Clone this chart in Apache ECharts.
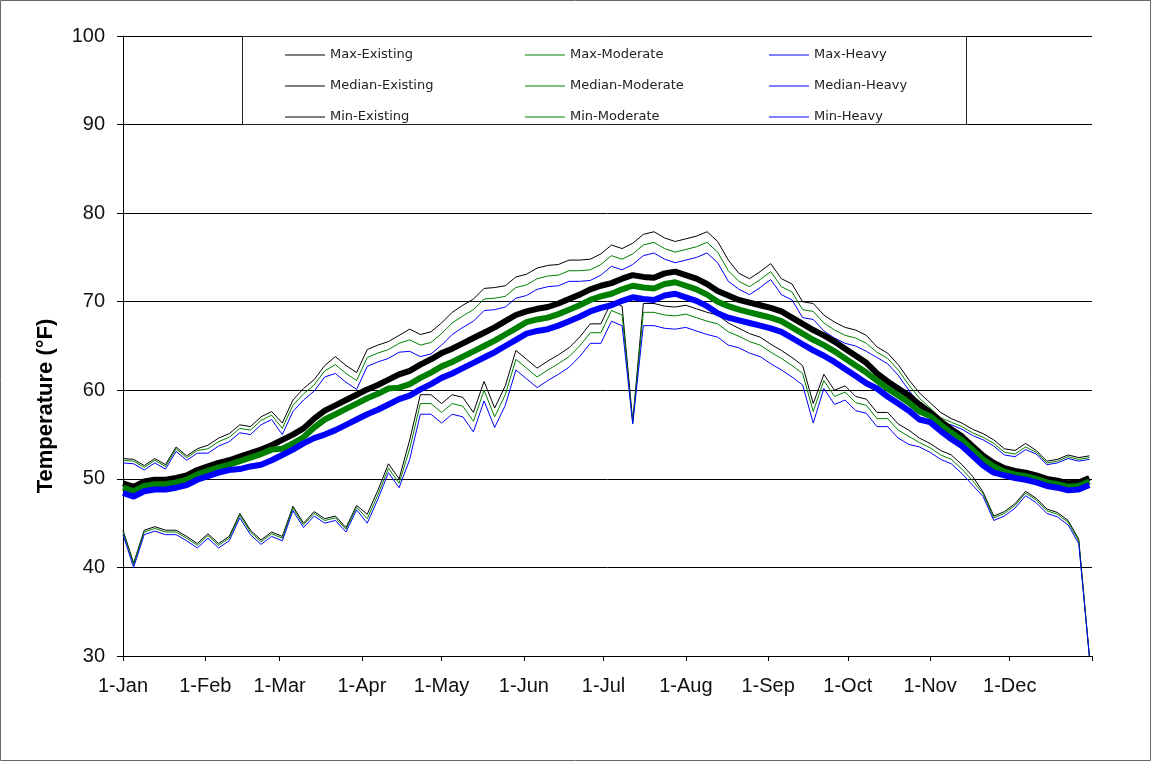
<!DOCTYPE html>
<html>
<head>
<meta charset="utf-8">
<title>Temperature</title>
<script src="https://cdn.jsdelivr.net/npm/echarts@6/dist/echarts.min.js"></script>
<style>
    html, body { margin: 0; padding: 0; background: #fff; }
    #chart { width: 1151px; height: 761px; }
</style>
</head>
<body>
<div id="chart"></div>
<script>
// day of year (0 = 1-Jan), sampled every 4 days
var days = [
    0, 4, 8, 12, 16, 20, 24, 28, 32, 36,
    40, 44, 48, 52, 56, 60, 64, 68, 72, 76,
    80, 84, 88, 92, 96, 100, 104, 108, 112, 116,
    120, 124, 128, 132, 136, 140, 144, 148, 152, 156,
    160, 164, 168, 172, 176, 180, 184, 188, 192, 196,
    200, 204, 208, 212, 216, 220, 224, 228, 232, 236,
    240, 244, 248, 252, 256, 260, 264, 268, 272, 276,
    280, 284, 288, 292, 296, 300, 304, 308, 312, 316,
    320, 324, 328, 332, 336, 340, 344, 348, 352, 356,
    360, 364
];

var monthDays = [0, 31, 59, 90, 120, 151, 181, 212, 243, 273, 304, 334, 365];
var monthLabels = ['1-Jan', '1-Feb', '1-Mar', '1-Apr', '1-May', '1-Jun',
    '1-Jul', '1-Aug', '1-Sep', '1-Oct', '1-Nov', '1-Dec'];

var maxExisting = [
    52.3, 52.2, 51.5, 52.3, 51.6, 53.6, 52.6, 53.4, 53.8, 54.6,
    55.1, 56.1, 55.9, 57.0, 57.6, 56.3, 58.9, 60.2, 61.2, 62.8,
    63.8, 62.8, 62.0, 64.6, 65.1, 65.5, 66.2, 66.9, 66.3, 66.6,
    67.6, 68.8, 69.6, 70.3, 71.5, 71.6, 71.8, 72.8, 73.1, 73.8,
    74.1, 74.2, 74.7, 74.7, 74.8, 75.4, 76.4, 76.0, 76.6, 77.6,
    77.9, 77.2, 76.8, 77.1, 77.4, 77.9, 76.8, 74.7, 73.2, 72.6,
    73.4, 74.3, 72.6, 72.0, 70.0, 69.8, 68.5, 67.7, 67.1, 66.8,
    66.2, 64.9, 64.2, 62.9, 61.2, 59.7, 58.6, 57.5, 56.8, 56.3,
    55.6, 55.1, 54.4, 53.4, 53.2, 54.0, 53.2, 52.0, 52.2, 52.7,
    52.4, 52.6
];
var maxModerate = [
    52.1, 52.0, 51.3, 52.1, 51.4, 53.4, 52.4, 53.2, 53.4, 54.2,
    54.7, 55.7, 55.5, 56.6, 57.2, 55.7, 58.3, 59.6, 60.6, 62.2,
    62.9, 61.9, 61.1, 63.7, 64.2, 64.6, 65.3, 65.7, 65.1, 65.4,
    66.4, 67.6, 68.4, 69.1, 70.3, 70.4, 70.6, 71.6, 71.9, 72.6,
    72.9, 73.0, 73.5, 73.5, 73.6, 74.2, 75.2, 74.8, 75.4, 76.4,
    76.7, 76.0, 75.6, 75.9, 76.2, 76.7, 75.6, 73.5, 72.3, 71.7,
    72.5, 73.4, 71.7, 71.1, 69.1, 68.9, 67.6, 66.8, 66.2, 65.9,
    65.3, 64.3, 63.6, 62.3, 60.6, 59.1, 58.0, 56.9, 56.4, 55.9,
    55.2, 54.7, 54.0, 53.0, 52.8, 53.6, 53.0, 51.8, 52.0, 52.5,
    52.2, 52.4
];
var maxHeavy = [
    51.8, 51.7, 51.0, 51.8, 51.1, 53.1, 52.1, 52.9, 52.9, 53.7,
    54.2, 55.2, 55.0, 56.1, 56.7, 55.0, 57.6, 58.9, 59.9, 61.5,
    61.9, 60.9, 60.1, 62.7, 63.2, 63.6, 64.3, 64.4, 63.8, 64.1,
    65.1, 66.3, 67.1, 67.8, 69.0, 69.1, 69.4, 70.4, 70.7, 71.4,
    71.7, 71.8, 72.3, 72.3, 72.4, 73.0, 74.0, 73.6, 74.2, 75.2,
    75.5, 74.8, 74.4, 74.7, 75.0, 75.5, 74.4, 72.3, 71.4, 70.8,
    71.6, 72.5, 70.8, 70.2, 68.2, 68.0, 66.7, 65.9, 65.3, 65.0,
    64.4, 63.7, 63.0, 61.7, 60.0, 58.5, 57.4, 56.3, 56.1, 55.6,
    54.9, 54.4, 53.7, 52.7, 52.5, 53.3, 52.8, 51.6, 51.8, 52.3,
    52.0, 52.2
];

var medianExisting = [
    49.5, 49.1, 49.7, 49.9, 49.9, 50.1, 50.4, 51.0, 51.4, 51.8,
    52.1, 52.5, 52.9, 53.3, 53.8, 54.4, 55.0, 55.7, 56.8, 57.7,
    58.3, 58.9, 59.5, 60.1, 60.6, 61.2, 61.8, 62.2, 62.9, 63.5,
    64.2, 64.7, 65.3, 65.9, 66.5, 67.1, 67.8, 68.5, 68.9, 69.2,
    69.4, 69.8, 70.3, 70.8, 71.4, 71.8, 72.1, 72.6, 73.0, 72.8,
    72.7, 73.2, 73.4, 73.0, 72.6, 72.0, 71.2, 70.7, 70.2, 69.9,
    69.6, 69.3, 68.9, 68.2, 67.5, 66.8, 66.2, 65.5, 64.7, 63.9,
    63.1, 61.9, 61.0, 60.2, 59.4, 58.4, 57.5, 56.5, 55.6, 54.8,
    53.7, 52.6, 51.8, 51.2, 50.9, 50.7, 50.4, 50.0, 49.8, 49.5,
    49.6, 50.1
];
var medianModerate = [
    49.0, 48.6, 49.2, 49.4, 49.4, 49.6, 49.9, 50.5, 50.9, 51.3,
    51.6, 52.0, 52.4, 52.8, 53.3, 53.4, 54.0, 54.7, 55.8, 56.7,
    57.3, 57.9, 58.5, 59.1, 59.6, 60.2, 60.3, 60.7, 61.4, 62.0,
    62.7, 63.2, 63.8, 64.4, 65.0, 65.6, 66.3, 67.0, 67.7, 68.0,
    68.2, 68.6, 69.1, 69.6, 70.2, 70.6, 70.9, 71.4, 71.8, 71.6,
    71.5, 72.0, 72.2, 71.8, 71.4, 70.8, 70.0, 69.5, 69.1, 68.8,
    68.5, 68.2, 67.8, 67.1, 66.4, 65.7, 65.1, 64.4, 63.6, 62.8,
    62.0, 61.1, 60.2, 59.4, 58.6, 57.6, 57.1, 56.1, 55.2, 54.4,
    53.3, 52.2, 51.4, 50.8, 50.5, 50.3, 50.0, 49.6, 49.4, 49.1,
    49.2, 49.7
];
var medianHeavy = [
    48.4, 48.0, 48.6, 48.8, 48.8, 49.0, 49.3, 49.9, 50.3, 50.7,
    51.0, 51.1, 51.4, 51.6, 52.1, 52.7, 53.3, 54.0, 54.6, 55.0,
    55.5, 56.1, 56.7, 57.3, 57.8, 58.4, 59.0, 59.4, 60.1, 60.7,
    61.4, 61.9, 62.5, 63.1, 63.7, 64.3, 65.0, 65.7, 66.4, 66.7,
    66.9, 67.3, 67.8, 68.3, 68.9, 69.3, 69.6, 70.1, 70.5, 70.3,
    70.2, 70.7, 70.9, 70.5, 70.1, 69.5, 68.7, 68.2, 67.9, 67.6,
    67.3, 67.0, 66.6, 65.9, 65.2, 64.5, 63.9, 63.2, 62.4, 61.6,
    60.8, 60.2, 59.3, 58.5, 57.7, 56.7, 56.4, 55.4, 54.5, 53.7,
    52.6, 51.5, 50.7, 50.4, 50.1, 49.9, 49.6, 49.2, 49.0, 48.7,
    48.8, 49.3
];

var minExisting = [
    44.2, 40.5, 44.2, 44.6, 44.2, 44.2, 43.5, 42.7, 43.8, 42.7,
    43.5, 46.1, 44.2, 43.1, 44.0, 43.5, 46.9, 45.0, 46.3, 45.5,
    45.8, 44.5, 47.0, 46.0, 48.7, 51.7, 50.0, 54.4, 59.5, 59.5,
    58.5, 59.5, 59.2, 57.5, 61.0, 58.0, 60.5, 64.5, 63.5, 62.5,
    63.3, 64.0, 64.8, 66.0, 67.5, 67.5, 70.0, 69.5, 56.5, 69.8,
    69.8, 69.5, 69.4, 69.6, 69.2, 68.8, 68.5, 67.6, 67.0, 66.4,
    66.0, 65.2, 64.5, 63.7, 62.8, 58.5, 61.8, 60.0, 60.5, 59.3,
    59.0, 57.5, 57.5, 56.2, 55.5, 54.6, 54.0, 53.2, 52.7, 51.6,
    50.3, 48.5, 45.8, 46.3, 47.2, 48.6, 47.8, 46.6, 46.2, 45.3,
    43.2, 30.0
];
var minModerate = [
    44.0, 40.3, 44.0, 44.4, 44.0, 44.0, 43.3, 42.5, 43.6, 42.5,
    43.3, 45.9, 44.0, 42.9, 43.8, 43.3, 46.7, 44.8, 46.1, 45.3,
    45.6, 44.3, 46.8, 45.5, 48.2, 51.2, 49.5, 53.4, 58.5, 58.5,
    57.5, 58.5, 58.2, 56.5, 60.0, 57.0, 59.5, 63.5, 62.5, 61.5,
    62.3, 63.0, 63.8, 65.0, 66.5, 66.5, 69.0, 68.5, 56.3, 68.8,
    68.8, 68.5, 68.4, 68.6, 68.2, 67.8, 67.5, 66.6, 66.1, 65.5,
    65.1, 64.3, 63.6, 62.8, 61.9, 57.6, 61.1, 59.3, 59.8, 58.6,
    58.3, 56.8, 56.8, 55.5, 54.8, 54.1, 53.5, 52.7, 52.2, 51.1,
    49.8, 48.3, 45.6, 46.1, 47.0, 48.4, 47.6, 46.4, 46.0, 45.1,
    43.0, 30.0
];
var minHeavy = [
    43.7, 40.0, 43.7, 44.1, 43.7, 43.7, 43.0, 42.2, 43.3, 42.2,
    43.0, 45.6, 43.7, 42.6, 43.5, 43.0, 46.4, 44.5, 45.8, 45.0,
    45.3, 44.0, 46.5, 45.0, 47.7, 50.7, 49.0, 52.2, 57.3, 57.3,
    56.3, 57.3, 57.0, 55.3, 58.8, 55.8, 58.3, 62.3, 61.3, 60.3,
    61.1, 61.8, 62.6, 63.8, 65.3, 65.3, 67.8, 67.3, 56.2, 67.3,
    67.3, 67.0, 66.9, 67.1, 66.7, 66.3, 66.0, 65.1, 64.8, 64.2,
    63.8, 63.0, 62.3, 61.5, 60.6, 56.3, 60.2, 58.4, 58.9, 57.7,
    57.4, 55.9, 55.9, 54.6, 53.9, 53.6, 53.0, 52.2, 51.7, 50.6,
    49.3, 48.0, 45.3, 45.8, 46.7, 48.1, 47.3, 46.1, 45.7, 44.8,
    42.7, 30.0
];

var tempChart = {
    $chart: null,

    init: function() {
        this.$chart = echarts.init(document.getElementById('chart'), null, {renderer: 'canvas'});
        this.render();
    },

    pairs: function(vals) {
        var out = [];
        for (var i = 0; i < days.length; i++) {
            out.push([days[i], vals[i]]);
        }
        return out;
    },

    line: function(name, vals, color, width) {
        return {
            name: name,
            type: 'line',
            data: this.pairs(vals),
            color: color,
            symbol: 'none',
            showSymbol: false,
            animation: false,
            clip: true,
            lineStyle: {color: color, width: width}
        };
    },

    legend: function(left, names) {
        return {
            orient: 'vertical',
            left: left,
            top: 42,
            data: names,
            icon: 'rect',
            itemWidth: 40,
            itemHeight: 1,
            itemGap: 15,
            selectedMode: false,
            textStyle: {fontFamily: 'DejaVu Sans', fontSize: 13, lineHeight: 16, color: '#222'}
        };
    },

    render: function() {
        var black = '#000000', green = '#008000', blue = '#0000ff';
        var option = {
            backgroundColor: '#ffffff',
            animation: false,
            grid: {left: 123, right: 59, top: 36, bottom: 105},
            legend: [
                this.legend(280, ['Max-Existing', 'Median-Existing', 'Min-Existing']),
                this.legend(520, ['Max-Moderate', 'Median-Moderate', 'Min-Moderate']),
                this.legend(764, ['Max-Heavy', 'Median-Heavy', 'Min-Heavy'])
            ],
            graphic: [
                {type: 'rect', z: 0, silent: true,
                    shape: {x: 0.5, y: 0.5, width: 1150, height: 760},
                    style: {fill: 'none', stroke: '#666', lineWidth: 1}},
                {type: 'rect', z: 1, silent: true,
                    shape: {x: 242.5, y: 36.5, width: 724, height: 88},
                    style: {fill: '#fff', stroke: '#222', lineWidth: 1}},
                {type: 'text', z: 5, silent: true, x: 46, y: 406, rotation: Math.PI / 2,
                    style: {text: 'Temperature (°F)', font: 'bold 22px "Liberation Sans", Arial, sans-serif',
                        fill: '#000', align: 'center', verticalAlign: 'middle',
                        textAlign: 'center', textVerticalAlign: 'middle'}}
            ],
            xAxis: {
                type: 'value',
                min: 0,
                max: 365,
                axisLine: {show: true, onZero: false, lineStyle: {color: '#000', width: 1}},
                axisTick: {show: true, length: 5, customValues: monthDays, lineStyle: {color: '#000'}},
                axisLabel: {
                    customValues: monthDays.slice(0, 12),
                    margin: 20,
                    fontFamily: 'Liberation Sans',
                    fontSize: 20,
                    color: '#111',
                    formatter: function(v) {
                        var i = monthDays.indexOf(Math.round(v));
                        return i >= 0 ? monthLabels[i] : '';
                    }
                },
                splitLine: {show: false}
            },
            yAxis: {
                type: 'value',
                min: 30,
                max: 100,
                interval: 10,
                axisLine: {show: true, lineStyle: {color: '#000', width: 1}},
                axisTick: {show: true, length: 6, lineStyle: {color: '#000'}},
                axisLabel: {margin: 18, fontFamily: 'Liberation Sans', fontSize: 20, color: '#111'},
                splitLine: {show: true, lineStyle: {color: '#000', width: 1}}
            },
            series: [
                this.line('Max-Existing', maxExisting, black, 1),
                this.line('Max-Moderate', maxModerate, green, 1),
                this.line('Max-Heavy', maxHeavy, blue, 1),
                this.line('Min-Existing', minExisting, black, 1),
                this.line('Min-Moderate', minModerate, green, 1),
                this.line('Min-Heavy', minHeavy, blue, 1),
                this.line('Median-Existing', medianExisting, black, 6),
                this.line('Median-Moderate', medianModerate, green, 6),
                this.line('Median-Heavy', medianHeavy, blue, 6)
            ]
        };
        this.$chart.setOption(option);
    }
};
tempChart.init();
</script>
</body>
</html>
